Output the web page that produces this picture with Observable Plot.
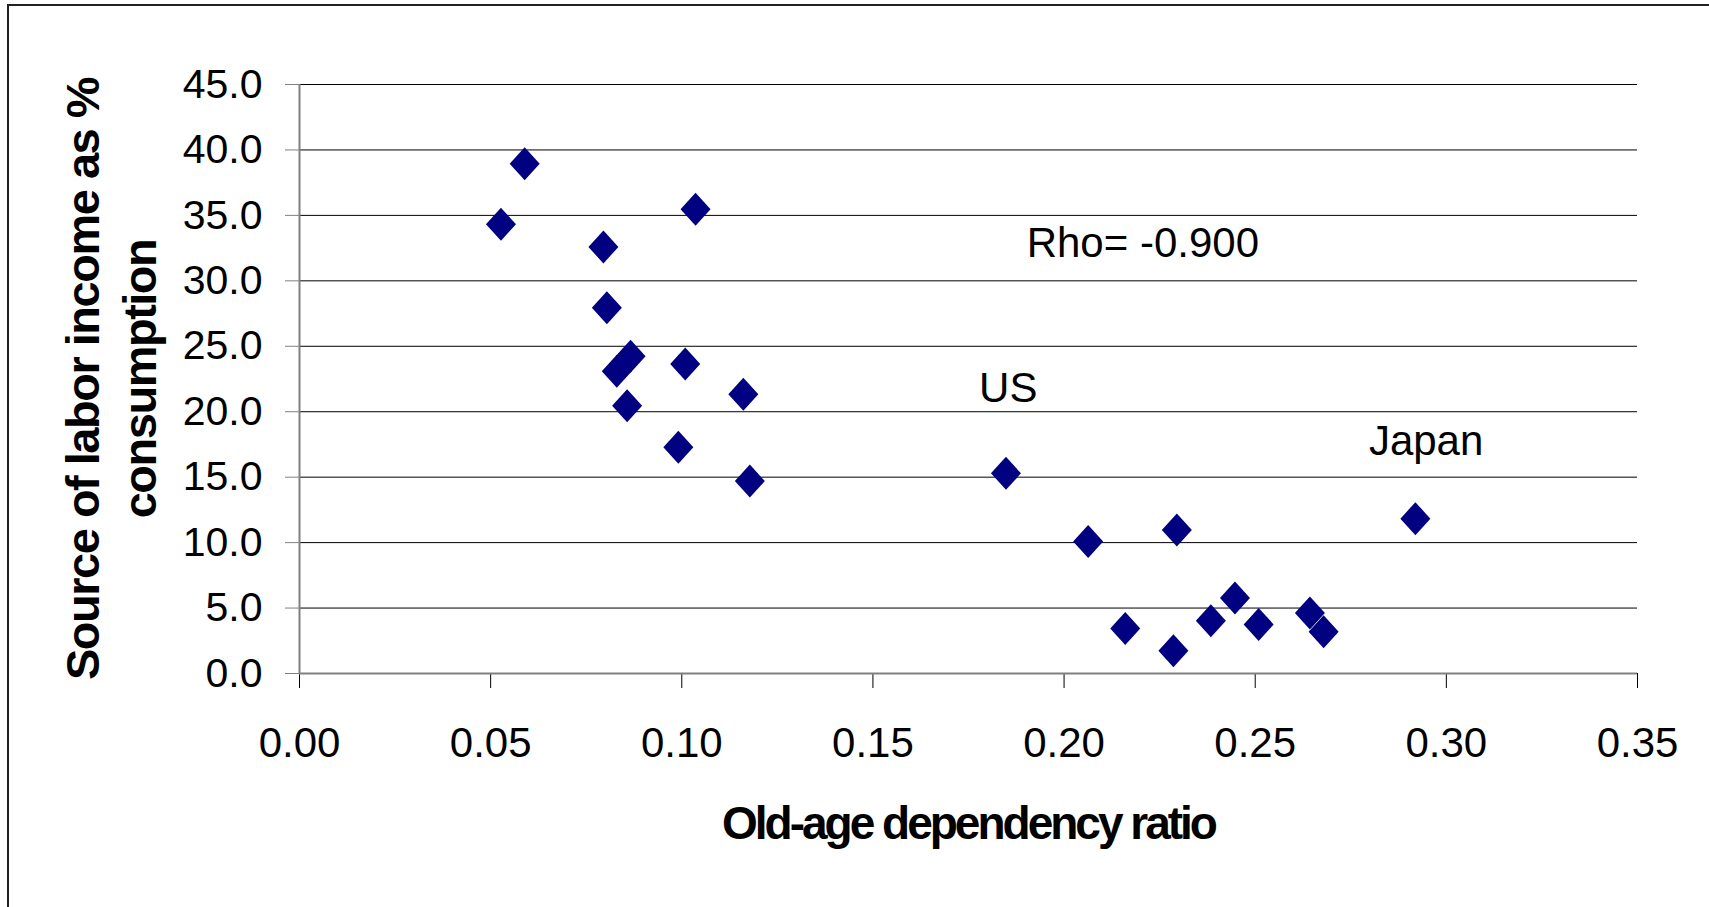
<!DOCTYPE html>
<html><head><meta charset="utf-8">
<script src="https://cdn.jsdelivr.net/npm/d3@7"></script>
<script src="https://cdn.jsdelivr.net/npm/@observablehq/plot@0.6"></script>
<style>
html,body{margin:0;padding:0;background:#fff;overflow:hidden;}
#wrap{position:relative;width:1709px;height:907px;overflow:hidden;}
#wrap svg{position:absolute;left:0;top:0;}
#frame{position:absolute;left:7px;top:4px;width:1800px;height:1000px;border:2px solid #222;pointer-events:none;}
</style></head><body><div id="wrap"></div>
<script>
// Old-age dependency ratio (x) and source of labor income as % of consumption (y)
const oldAgeRatio = [0.0589, 0.0527, 0.1036, 0.0795, 0.0804, 0.0866, 0.0830, 0.0857, 0.1009, 0.0991, 0.1161, 0.1178,
  0.1848, 0.2063, 0.2295, 0.2160, 0.2286, 0.2384, 0.2447, 0.2509, 0.2643, 0.2679, 0.2919];
const laborIncomePct = [38.94, 34.32, 35.47, 32.59, 27.95, 24.23, 23.09, 20.46, 23.65, 17.28, 21.33, 14.70,
  15.29, 10.09, 10.96, 3.44, 1.74, 4.03, 5.76, 3.75, 4.62, 3.19, 11.83];
const yTicks = [0, 5, 10, 15, 20, 25, 30, 35, 40, 45];
const xTicks = [0, 0.05, 0.10, 0.15, 0.20, 0.25, 0.30, 0.35];
const annotationText = ["Rho= -0.900", "US", "Japan"];
const annotationX = [0.2206, 0.1854, 0.2947];
const annotationY = [32.82, 21.74, 17.74];
const xTitle = "Old-age dependency ratio";
const yTitle = "Source of labor income as %\nconsumption";

const points = oldAgeRatio.map((x, i) => ({x, y: laborIncomePct[i]}));
const annotations = annotationText.map((label, i) => ({label, x: annotationX[i], y: annotationY[i]}));

const diamond = {
  draw(ctx, size) {
    const r = Math.sqrt(size / Math.PI), h = r * 1.1;
    ctx.moveTo(0, -h); ctx.lineTo(r, 0); ctx.lineTo(0, h); ctx.lineTo(-r, 0); ctx.closePath();
  }
};

const chart = Plot.plot({
  width: 1709, height: 907,
  marginLeft: 299, marginRight: 72, marginTop: 84, marginBottom: 234,
  style: {fontFamily: "'Liberation Sans', Arial, sans-serif", background: "#fff", color: "#000"},
  x: {domain: [0, 0.35]},
  y: {domain: [0, 45]},
  marks: [
    Plot.ruleY(yTicks.filter(d => d > 0), {stroke: "#000", strokeWidth: 1}),
    Plot.axisY(yTicks, {tickSize: 14, tickPadding: 23, tickFormat: d => d.toFixed(1), fontSize: 41, stroke: "#808080", label: null}),
    Plot.axisX(xTicks, {tickSize: 15, tickPadding: 39, tickFormat: d => d.toFixed(2), fontSize: 42, stroke: "#000", label: null}),
    Plot.ruleY([0], {stroke: "#808080", strokeWidth: 2}),
    Plot.ruleX([0], {stroke: "#808080", strokeWidth: 2}),
    Plot.dot(points, {x: "x", y: "y", r: 15, symbol: diamond, fill: "#000080", stroke: "none"}),
    Plot.text(annotations, {x: "x", y: "y", text: "label", fontSize: 42, fill: "#000"}),
    Plot.text([xTitle], {frameAnchor: "bottom", dy: 165, lineAnchor: "bottom", fontSize: 46, fontWeight: "bold", fill: "#000"}),
    Plot.text([yTitle], {frameAnchor: "left", textAnchor: "middle", dx: -144, rotate: -90, lineAnchor: "bottom", lineHeight: 1.21, fontSize: 47, fontWeight: "bold", fill: "#000"})
  ]
});

d3.select(chart).selectAll("text").each(function() {
  const t = this.textContent;
  if (t.startsWith("Old-age")) this.setAttribute("letter-spacing", "-3");
  if (t.startsWith("Source")) this.setAttribute("letter-spacing", "-1.5");
});

const wrap = document.getElementById("wrap");
wrap.appendChild(chart);
const frame = document.createElement("div");
frame.id = "frame";
wrap.appendChild(frame);
</script>
</body></html>
